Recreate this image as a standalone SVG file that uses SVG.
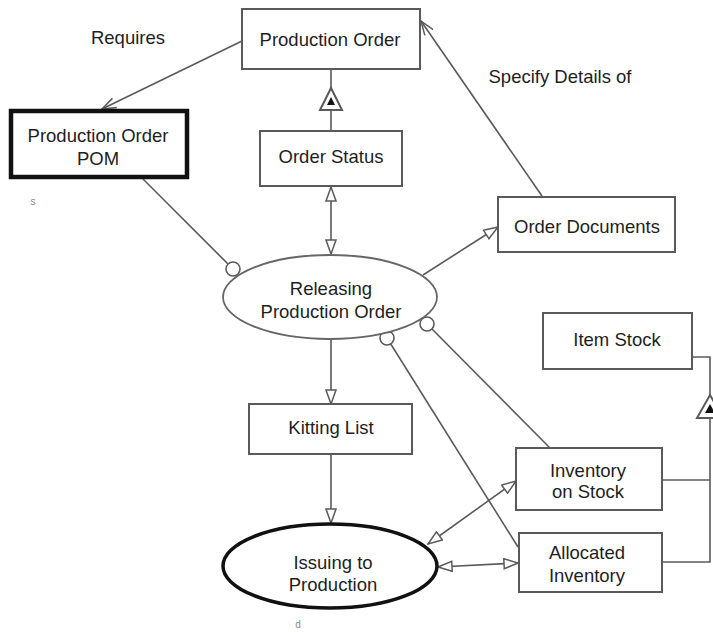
<svg xmlns="http://www.w3.org/2000/svg" width="713" height="632" viewBox="0 0 713 632">
  <style>
    text { font-family: "Liberation Sans", Arial, sans-serif; font-size: 18.5px; fill: #1e1e1e; text-anchor: middle; }
    .box { fill: #ffffff; stroke: #5a5a5a; stroke-width: 2; }
    .strong { fill: #ffffff; stroke: #111111; stroke-width: 4.5; }
    .proc { fill: #ffffff; stroke: #666666; stroke-width: 1.8; }
    .proc-strong { fill: #ffffff; stroke: #111111; stroke-width: 3.5; }
    .link { fill: none; stroke: #5a5a5a; stroke-width: 1.6; }
    .lolly { fill: #ffffff; stroke: #5a5a5a; stroke-width: 1.6; }
    .gen { fill: #ffffff; stroke: #5a5a5a; stroke-width: 2; }
    .gen-in { fill: #111111; }
    .mark { font-size: 10px; fill: #888888; }
  </style>
  <defs>
    <marker id="tri" viewBox="0 0 16 12" refX="15" refY="6" markerWidth="16" markerHeight="12" markerUnits="userSpaceOnUse" orient="auto-start-reverse">
      <path d="M1,1 L15,6 L1,11 Z" fill="#ffffff" stroke="#5a5a5a" stroke-width="1.5"/>
    </marker>
    <marker id="vee" viewBox="0 0 16 12" refX="15" refY="6" markerWidth="16" markerHeight="12" markerUnits="userSpaceOnUse" orient="auto">
      <path d="M1,1 L15,6 L1,11" fill="none" stroke="#5a5a5a" stroke-width="1.5"/>
    </marker>
  </defs>

  <rect width="713" height="632" fill="#ffffff"/>

  <!-- connectors -->
  <g id="connectors">
    <line class="link" x1="242" y1="41" x2="102" y2="109" marker-end="url(#vee)"/>
    <line class="link" x1="542" y1="196" x2="421" y2="21" marker-end="url(#vee)"/>
    <line class="link" x1="331" y1="69" x2="331" y2="131"/>
    <line class="link" x1="331" y1="187" x2="331" y2="254" marker-start="url(#tri)" marker-end="url(#tri)"/>
    <line class="link" x1="423" y1="275" x2="498" y2="227" marker-end="url(#tri)"/>
    <line class="link" x1="331" y1="340" x2="331" y2="404" marker-end="url(#tri)"/>
    <line class="link" x1="331" y1="454" x2="331" y2="523" marker-end="url(#tri)"/>
    <line class="link" x1="143" y1="179" x2="233" y2="269"/>
    <line class="link" x1="427" y1="324" x2="550" y2="448"/>
    <line class="link" x1="387" y1="338" x2="518" y2="547"/>
    <line class="link" x1="428" y1="544" x2="516" y2="481" marker-start="url(#tri)" marker-end="url(#tri)"/>
    <line class="link" x1="438" y1="567" x2="518" y2="563" marker-start="url(#tri)" marker-end="url(#tri)"/>
    <polyline class="link" points="692,357 710,357 710,562 662,562"/>
    <line class="link" x1="662" y1="480" x2="710" y2="480"/>
    <!-- lollipop ends on the Releasing Production Order process -->
    <circle class="lolly" cx="233" cy="269" r="7"/>
    <circle class="lolly" cx="427" cy="324" r="7"/>
    <circle class="lolly" cx="387" cy="338" r="7"/>
    <!-- aggregation triangles -->
    <polygon class="gen" points="331,88 342,110 320,110"/>
    <polygon class="gen-in" points="331,97 335,105 327,105"/>
    <polygon class="gen" points="710,395 723,418 697,418"/>
    <polygon class="gen-in" points="710,404 715,413 705,413"/>
  </g>

  <!-- labels on links -->
  <text x="128" y="44">Requires</text>
  <text x="560" y="83">Specify Details of</text>

  <g id="production-order">
    <rect class="box" x="242" y="9" width="178" height="60"/>
    <text x="330" y="46">Production Order</text>
  </g>

  <g id="production-order-pom">
    <rect class="strong" x="11" y="111" width="176" height="66"/>
    <text x="98" y="142">Production Order</text>
    <text x="98" y="165">POM</text>
    <text class="mark" x="33" y="205">s</text>
  </g>

  <g id="order-status">
    <rect class="box" x="260" y="131" width="142" height="55"/>
    <text x="331" y="163">Order Status</text>
  </g>

  <g id="order-documents">
    <rect class="box" x="498" y="197" width="177" height="55"/>
    <text x="587" y="233">Order Documents</text>
  </g>

  <g id="releasing-production-order">
    <ellipse class="proc" cx="330" cy="297" rx="107" ry="42"/>
    <text x="331" y="295">Releasing</text>
    <text x="331" y="318">Production Order</text>
  </g>

  <g id="kitting-list">
    <rect class="box" x="249" y="404" width="163" height="50"/>
    <text x="331" y="434">Kitting List</text>
  </g>

  <g id="issuing-to-production">
    <ellipse class="proc-strong" cx="330" cy="566" rx="107" ry="42"/>
    <text x="333" y="569">Issuing to</text>
    <text x="333" y="591">Production</text>
    <text class="mark" x="298" y="628">d</text>
  </g>

  <g id="item-stock">
    <rect class="box" x="543" y="313" width="149" height="56"/>
    <text x="617" y="346">Item Stock</text>
  </g>

  <g id="inventory-on-stock">
    <rect class="box" x="516" y="448" width="146" height="62"/>
    <text x="588" y="477">Inventory</text>
    <text x="588" y="498">on Stock</text>
  </g>

  <g id="allocated-inventory">
    <rect class="box" x="519" y="533" width="143" height="59"/>
    <text x="587" y="559">Allocated</text>
    <text x="587" y="582">Inventory</text>
  </g>
</svg>
